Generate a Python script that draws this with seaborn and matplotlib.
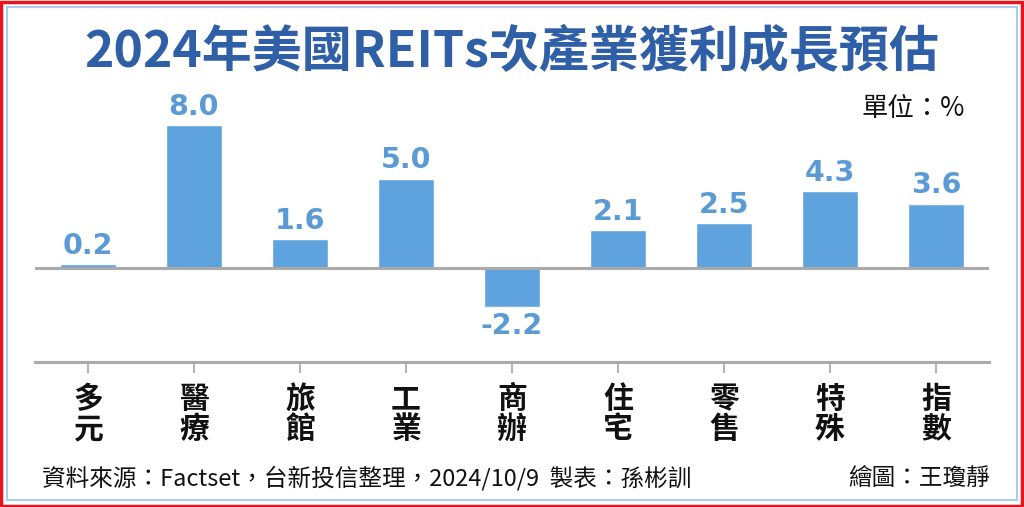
import matplotlib.pyplot as plt
import pandas as pd
import seaborn as sns
from matplotlib.patches import Rectangle

categories = ['多元', '醫療', '旅館', '工業', '商辦', '住宅', '零售', '特殊', '指數']
growth = [0.2, 8.0, 1.6, 5.0, -2.2, 2.1, 2.5, 4.3, 3.6]

title = '2024年美國REITs次產業獲利成長預估'
unit_text = '單位：%'
source_text = '資料來源：Factset，台新投信整理，2024/10/9  製表：孫彬訓'
drawer_text = '繪圖：王瓊靜'

bar_color = '#5ea3de'
label_color = '#5b9bd5'
title_color = '#2f5fa7'
line_color = '#aaaaaa'
cjk = ['Noto Sans CJK TC', 'DejaVu Sans']

sns.set_style('white')
plt.rcParams['font.family'] = cjk

df = pd.DataFrame({'cat': categories, 'val': growth})

fig = plt.figure(figsize=(10.24, 5.07), dpi=100)
ax = fig.add_axes([35 / 1024, 0.286, 954 / 1024, 0.5168])

sns.barplot(data=df, x='cat', y='val', color=bar_color, width=0.52,
            saturation=1, ax=ax)

ax.set_xlim(-0.5, len(categories) - 0.5)
ax.set_ylim(-5.25, 9.39)
ax.axhline(0, color=line_color, lw=2.2, zorder=3)

for s in ['top', 'left', 'right']:
    ax.spines[s].set_visible(False)
ax.spines['bottom'].set_color(line_color)
ax.spines['bottom'].set_linewidth(2.2)

ax.set_yticks([])
ax.set_xlabel('')
ax.set_ylabel('')
ax.set_xticks(range(len(categories)))
ax.set_xticklabels(['\n'.join(c) for c in categories], fontsize=21.5,
                   fontweight='bold', linespacing=1.0, color='#111111')
ax.tick_params(axis='x', length=8, width=1.5, color='#b5b5b5', pad=8,
               bottom=True)

ax.bar_label(ax.containers[0], fmt='%.1f', padding=3, fontsize=20.5,
             color=label_color, fontweight='bold', family=['DejaVu Sans'])

fig.text(0.5, 1 - 52 / 507, title, ha='center', va='center', fontsize=36,
         fontweight='bold', color=title_color)
fig.text(965 / 1024, 1 - 108 / 507, unit_text, ha='right', va='center',
         fontsize=19, color='#111111')
fig.text(42 / 1024, 1 - 478 / 507, source_text, ha='left', va='center',
         fontsize=17, color='#111111')
fig.text(990 / 1024, 1 - 478 / 507, drawer_text, ha='right', va='center',
         fontsize=17, color='#111111')

fig.patches.append(Rectangle((0.001, 0.002), 0.997, 0.995, transform=fig.transFigure,
                             fill=False, edgecolor='#e8141c', lw=2.5))
fig.patches.append(Rectangle((7 / 1024, 7 / 507), 1 - 14 / 1024, 1 - 14 / 507,
                             transform=fig.transFigure, fill=False,
                             edgecolor='#a9cde9', lw=1.5))

fig.savefig('out.png', dpi=100)
